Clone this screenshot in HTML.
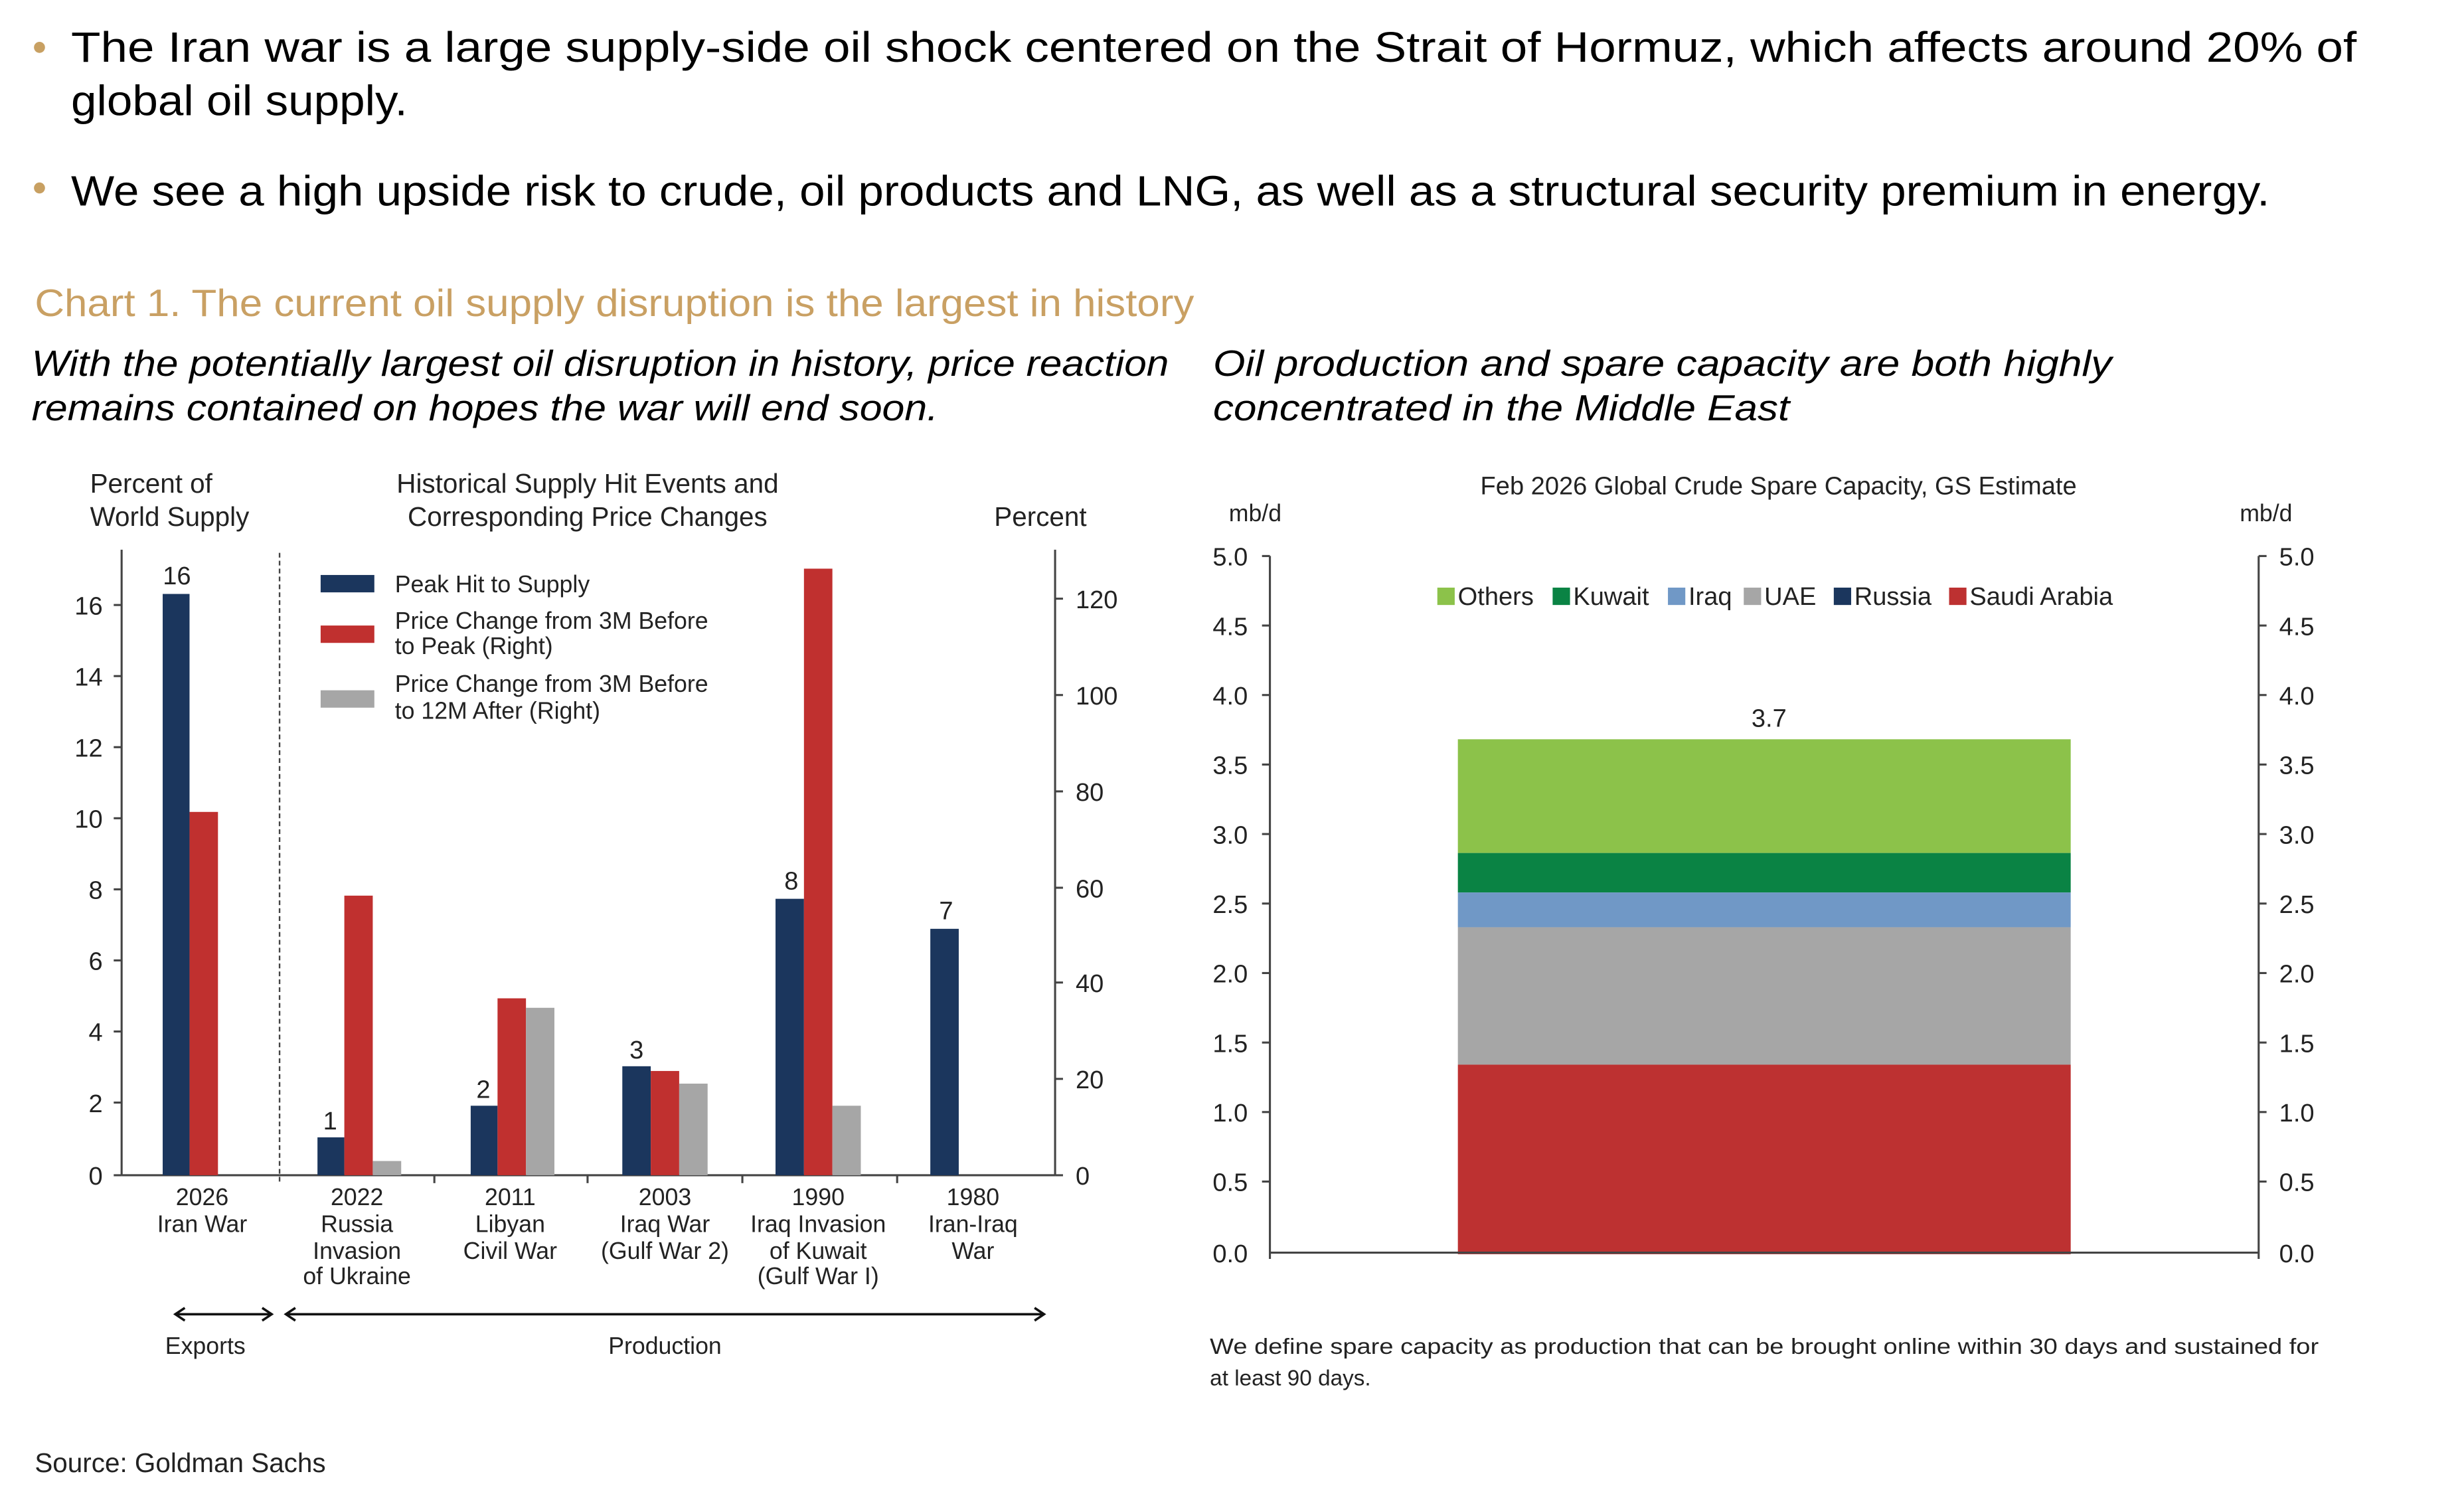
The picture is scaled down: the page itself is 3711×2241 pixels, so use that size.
<!DOCTYPE html>
<html><head><meta charset="utf-8"><style>
html,body{margin:0;padding:0;background:#fff;}
svg{display:block;}
text{font-family:"Liberation Sans",sans-serif;}
</style></head><body>
<svg width="3711" height="2241" viewBox="0 0 1560 942" preserveAspectRatio="none" xmlns="http://www.w3.org/2000/svg">
<rect width="1560" height="942" fill="#fff"/>
<!-- bullets -->
<circle cx="25" cy="30" r="3.5" fill="#c8a062"/>
<circle cx="25" cy="119" r="3.5" fill="#c8a062"/>
<g fill="#000" font-size="27">
<text x="45" y="39" textLength="1447" lengthAdjust="spacingAndGlyphs">The Iran war is a large supply-side oil shock centered on the Strait of Hormuz, which affects around 20% of</text>
<text x="45" y="73" textLength="213" lengthAdjust="spacingAndGlyphs">global oil supply.</text>
<text x="45" y="130" textLength="1392" lengthAdjust="spacingAndGlyphs">We see a high upside risk to crude, oil products and LNG, as well as a structural security premium in energy.</text>
</g>
<text x="22" y="200" font-size="24" fill="#c9a063" textLength="734" lengthAdjust="spacingAndGlyphs">Chart 1. The current oil supply disruption is the largest in history</text>
<g font-size="23" font-style="italic" fill="#000">
<text x="20" y="238" textLength="720" lengthAdjust="spacingAndGlyphs">With the potentially largest oil disruption in history, price reaction</text>
<text x="20" y="266" textLength="574" lengthAdjust="spacingAndGlyphs">remains contained on hopes the war will end soon.</text>
<text x="768" y="238" textLength="569" lengthAdjust="spacingAndGlyphs">Oil production and spare capacity are both highly</text>
<text x="768" y="266" textLength="365" lengthAdjust="spacingAndGlyphs">concentrated in the Middle East</text>
</g>

<!-- LEFT CHART -->
<g font-size="17" fill="#222">
<text x="57" y="312">Percent of</text>
<text x="57" y="333">World Supply</text>
<text x="372" y="312" text-anchor="middle">Historical Supply Hit Events and</text>
<text x="372" y="333" text-anchor="middle">Corresponding Price Changes</text>
<text x="688" y="333" text-anchor="end">Percent</text>
</g>
<g stroke="#444" stroke-width="1.3" fill="none">
<line x1="77" y1="348" x2="77" y2="744"/>
<line x1="668" y1="348" x2="668" y2="744"/>
<line x1="77" y1="744" x2="668" y2="744"/>
<line x1="72" y1="383" x2="77" y2="383"/><line x1="72" y1="428" x2="77" y2="428"/><line x1="72" y1="473" x2="77" y2="473"/><line x1="72" y1="518" x2="77" y2="518"/><line x1="72" y1="563" x2="77" y2="563"/><line x1="72" y1="608" x2="77" y2="608"/><line x1="72" y1="653" x2="77" y2="653"/><line x1="72" y1="698" x2="77" y2="698"/><line x1="72" y1="744" x2="77" y2="744"/>
<line x1="668" y1="379" x2="673" y2="379"/><line x1="668" y1="440" x2="673" y2="440"/><line x1="668" y1="501" x2="673" y2="501"/><line x1="668" y1="562" x2="673" y2="562"/><line x1="668" y1="622" x2="673" y2="622"/><line x1="668" y1="683" x2="673" y2="683"/><line x1="668" y1="744" x2="673" y2="744"/>
<line x1="275" y1="744" x2="275" y2="749"/><line x1="372" y1="744" x2="372" y2="749"/><line x1="470" y1="744" x2="470" y2="749"/><line x1="568" y1="744" x2="568" y2="749"/>
</g>
<line x1="177" y1="350" x2="177" y2="749" stroke="#444" stroke-width="1" stroke-dasharray="3,2"/>
<g font-size="16" fill="#222" text-anchor="end">
<text x="65" y="389">16</text><text x="65" y="434">14</text><text x="65" y="479">12</text><text x="65" y="524">10</text><text x="65" y="569">8</text><text x="65" y="614">6</text><text x="65" y="659">4</text><text x="65" y="704">2</text><text x="65" y="750">0</text>
</g>
<g font-size="16" fill="#222">
<text x="681" y="385">120</text><text x="681" y="446">100</text><text x="681" y="507">80</text><text x="681" y="568">60</text><text x="681" y="628">40</text><text x="681" y="689">20</text><text x="681" y="750">0</text>
</g>
<!-- bars -->
<g>
<rect x="103" y="376" width="17" height="368" fill="#1b365d"/>
<rect x="120" y="514" width="18" height="230" fill="#c0302f"/>
<rect x="201" y="720" width="17" height="24" fill="#1b365d"/>
<rect x="218" y="567" width="18" height="177" fill="#c0302f"/>
<rect x="236" y="735" width="18" height="9" fill="#a6a6a6"/>
<rect x="298" y="700" width="17" height="44" fill="#1b365d"/>
<rect x="315" y="632" width="18" height="112" fill="#c0302f"/>
<rect x="333" y="638" width="18" height="106" fill="#a6a6a6"/>
<rect x="394" y="675" width="18" height="69" fill="#1b365d"/>
<rect x="412" y="678" width="18" height="66" fill="#c0302f"/>
<rect x="430" y="686" width="18" height="58" fill="#a6a6a6"/>
<rect x="491" y="569" width="18" height="175" fill="#1b365d"/>
<rect x="509" y="360" width="18" height="384" fill="#c0302f"/>
<rect x="527" y="700" width="18" height="44" fill="#a6a6a6"/>
<rect x="589" y="588" width="18" height="156" fill="#1b365d"/>
</g>
<g font-size="16" fill="#222" text-anchor="middle">
<text x="112" y="370">16</text><text x="209" y="715">1</text><text x="306" y="695">2</text><text x="403" y="670">3</text><text x="501" y="563">8</text><text x="599" y="582">7</text>
</g>
<!-- legend -->
<rect x="203" y="364" width="34" height="11" fill="#1b365d"/>
<rect x="203" y="396" width="34" height="11" fill="#c0302f"/>
<rect x="203" y="437" width="34" height="11" fill="#a6a6a6"/>
<g font-size="15" fill="#222">
<text x="250" y="375">Peak Hit to Supply</text>
<text x="250" y="398">Price Change from 3M Before</text>
<text x="250" y="414">to Peak (Right)</text>
<text x="250" y="438">Price Change from 3M Before</text>
<text x="250" y="455">to 12M After (Right)</text>
</g>
<g font-size="15" fill="#222" text-anchor="middle">
<text x="128" y="763">2026</text><text x="128" y="780">Iran War</text>
<text x="226" y="763">2022</text><text x="226" y="780">Russia</text><text x="226" y="797">Invasion</text><text x="226" y="813">of Ukraine</text>
<text x="323" y="763">2011</text><text x="323" y="780">Libyan</text><text x="323" y="797">Civil War</text>
<text x="421" y="763">2003</text><text x="421" y="780">Iraq War</text><text x="421" y="797">(Gulf War 2)</text>
<text x="518" y="763">1990</text><text x="518" y="780">Iraq Invasion</text><text x="518" y="797">of Kuwait</text><text x="518" y="813">(Gulf War I)</text>
<text x="616" y="763">1980</text><text x="616" y="780">Iran-Iraq</text><text x="616" y="797">War</text>
</g>
<g stroke="#111" stroke-width="1.5" fill="none">
<line x1="111" y1="832" x2="172" y2="832"/>
<polyline points="117,828 111,832 117,836"/><polyline points="166,828 172,832 166,836"/>
<line x1="181" y1="832" x2="661" y2="832"/>
<polyline points="187,828 181,832 187,836"/><polyline points="655,828 661,832 655,836"/>
</g>
<g font-size="15" fill="#222" text-anchor="middle">
<text x="130" y="857">Exports</text><text x="421" y="857">Production</text>
</g>
<text x="22" y="932" font-size="17" fill="#222">Source: Goldman Sachs</text>

<!-- RIGHT CHART -->
<text x="1126" y="313" font-size="16" fill="#222" text-anchor="middle">Feb 2026 Global Crude Spare Capacity, GS Estimate</text>
<text x="778" y="330" font-size="15" fill="#222">mb/d</text>
<text x="1418" y="330" font-size="15" fill="#222">mb/d</text>
<rect x="923" y="468" width="388" height="72" fill="#8cc24a"/>
<rect x="923" y="540" width="388" height="25" fill="#0a8344"/>
<rect x="923" y="565" width="388" height="22" fill="#7098c6"/>
<rect x="923" y="587" width="388" height="87" fill="#a6a6a6"/>
<rect x="923" y="674" width="388" height="120" fill="#bd3131"/>
<g stroke="#444" stroke-width="1.3" fill="none">
<line x1="804" y1="352" x2="804" y2="797"/>
<line x1="1430" y1="352" x2="1430" y2="797"/>
<line x1="804" y1="793" x2="1430" y2="793"/>
<line x1="799" y1="352" x2="804" y2="352"/><line x1="799" y1="396" x2="804" y2="396"/><line x1="799" y1="440" x2="804" y2="440"/><line x1="799" y1="484" x2="804" y2="484"/><line x1="799" y1="528" x2="804" y2="528"/><line x1="799" y1="572" x2="804" y2="572"/><line x1="799" y1="616" x2="804" y2="616"/><line x1="799" y1="660" x2="804" y2="660"/><line x1="799" y1="704" x2="804" y2="704"/><line x1="799" y1="748" x2="804" y2="748"/>
<line x1="1430" y1="352" x2="1435" y2="352"/><line x1="1430" y1="396" x2="1435" y2="396"/><line x1="1430" y1="440" x2="1435" y2="440"/><line x1="1430" y1="484" x2="1435" y2="484"/><line x1="1430" y1="528" x2="1435" y2="528"/><line x1="1430" y1="572" x2="1435" y2="572"/><line x1="1430" y1="616" x2="1435" y2="616"/><line x1="1430" y1="660" x2="1435" y2="660"/><line x1="1430" y1="704" x2="1435" y2="704"/><line x1="1430" y1="748" x2="1435" y2="748"/>
</g>
<g font-size="16" fill="#222" text-anchor="end">
<text x="790" y="358">5.0</text><text x="790" y="402">4.5</text><text x="790" y="446">4.0</text><text x="790" y="490">3.5</text><text x="790" y="534">3.0</text><text x="790" y="578">2.5</text><text x="790" y="622">2.0</text><text x="790" y="666">1.5</text><text x="790" y="710">1.0</text><text x="790" y="754">0.5</text><text x="790" y="799">0.0</text>
</g>
<g font-size="16" fill="#222">
<text x="1443" y="358">5.0</text><text x="1443" y="402">4.5</text><text x="1443" y="446">4.0</text><text x="1443" y="490">3.5</text><text x="1443" y="534">3.0</text><text x="1443" y="578">2.5</text><text x="1443" y="622">2.0</text><text x="1443" y="666">1.5</text><text x="1443" y="710">1.0</text><text x="1443" y="754">0.5</text><text x="1443" y="799">0.0</text>
</g>
<text x="1120" y="460" font-size="16" fill="#222" text-anchor="middle">3.7</text>
<!-- legend -->
<rect x="910" y="372" width="11" height="11" fill="#8cc24a"/>
<rect x="983" y="372" width="11" height="11" fill="#0a8344"/>
<rect x="1056" y="372" width="11" height="11" fill="#7098c6"/>
<rect x="1104" y="372" width="11" height="11" fill="#a6a6a6"/>
<rect x="1161" y="372" width="11" height="11" fill="#1b365d"/>
<rect x="1234" y="372" width="11" height="11" fill="#bd3131"/>
<g font-size="16" fill="#222">
<text x="923" y="383">Others</text><text x="996" y="383">Kuwait</text><text x="1069" y="383">Iraq</text><text x="1117" y="383">UAE</text><text x="1174" y="383">Russia</text><text x="1247" y="383">Saudi Arabia</text>
</g>
<g font-size="14" fill="#222">
<text x="766" y="857" textLength="702" lengthAdjust="spacingAndGlyphs">We define spare capacity as production that can be brought online within 30 days and sustained for</text>
<text x="766" y="877">at least 90 days.</text>
</g>
</svg>
</body></html>
